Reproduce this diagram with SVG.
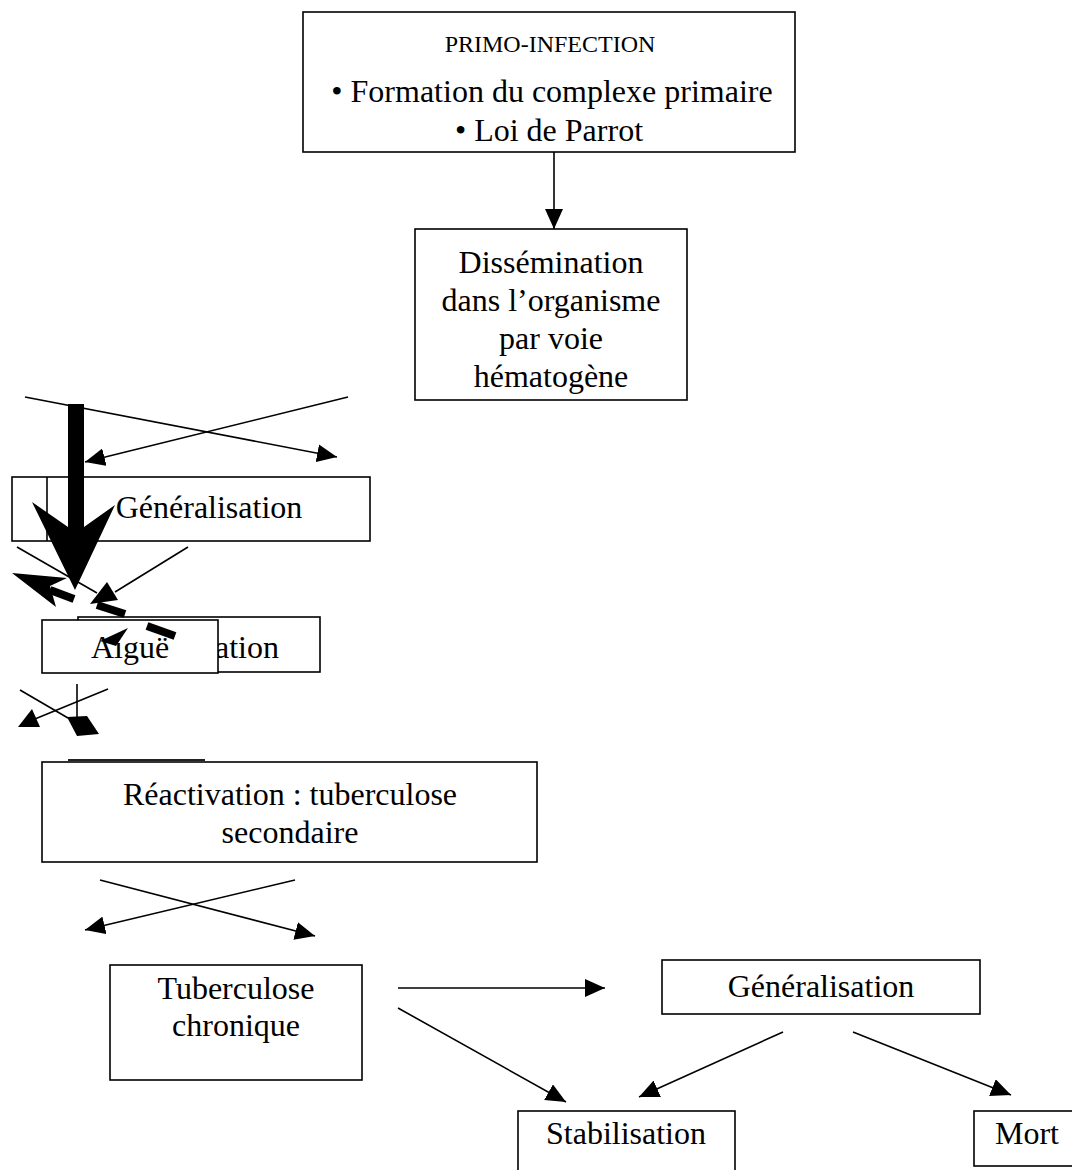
<svg xmlns="http://www.w3.org/2000/svg" width="1072" height="1170" viewBox="0 0 1072 1170">
<style>
.box{fill:#fff;stroke:#000;stroke-width:1.6}
.t{font-family:"Liberation Serif","Times New Roman",serif;font-size:32px;fill:#000;text-anchor:middle}
.ts{font-size:24px}
.ln{stroke:#000;stroke-width:1.6;fill:none}
.arr{marker-end:url(#ah)}
.thick{stroke:#000;stroke-width:8;fill:none}
.blk{fill:#000;stroke:none}
</style>
<defs>
<marker id="ah" viewBox="0 0 20 18" refX="20" refY="9" markerWidth="20" markerHeight="18" markerUnits="userSpaceOnUse" orient="auto">
<path d="M0,0 L20,9 L0,18 z" fill="#000"/>
</marker>
</defs>
<g id="primo">
<rect class="box" x="303" y="12" width="492" height="140"/>
<text class="t ts" x="550" y="52">PRIMO-INFECTION</text>
<text class="t" x="552" y="102">• Formation du complexe primaire</text>
<text class="t" x="549" y="141">• Loi de Parrot</text>
</g>
<g id="dissemination">
<rect class="box" x="415" y="229" width="272" height="171"/>
<text class="t" x="551" y="273">Dissémination</text>
<text class="t" x="551" y="311">dans l’organisme</text>
<text class="t" x="551" y="349">par voie</text>
<text class="t" x="551" y="387">hématogène</text>
</g>
<g id="generalisation-left">
<rect class="box" x="12" y="477" width="358" height="64"/>
<line class="ln" x1="47" y1="477" x2="47" y2="541"/>
<text class="t" x="209" y="518">Généralisation</text>
</g>
<g id="stabilisation-left">
<rect class="box" x="78" y="617" width="242" height="55"/>
<text class="t" x="199" y="658">Stabilisation</text>
</g>
<g id="aigue">
<rect class="box" x="42" y="620" width="176" height="53"/>
<text class="t" x="130" y="658">Aiguë</text>
</g>
<g id="reactivation">
<rect class="box" x="42" y="762" width="495" height="100"/>
<text class="t" x="290" y="805">Réactivation : tuberculose</text>
<text class="t" x="290" y="843">secondaire</text>
</g>
<g id="chronique">
<rect class="box" x="110" y="965" width="252" height="115"/>
<text class="t" x="236" y="999">Tuberculose</text>
<text class="t" x="236" y="1036">chronique</text>
</g>
<g id="generalisation-right">
<rect class="box" x="662" y="960" width="318" height="54"/>
<text class="t" x="821" y="997">Généralisation</text>
</g>
<g id="stabilisation">
<rect class="box" x="518" y="1111" width="217" height="70"/>
<text class="t" x="626" y="1144">Stabilisation</text>
</g>
<g id="mort">
<rect class="box" x="974" y="1111" width="110" height="55"/>
<text class="t" x="1027" y="1144">Mort</text>
</g>
<g id="connectors">
<line class="ln arr" x1="554" y1="152" x2="554" y2="229"/>
<line class="ln arr" x1="25" y1="397" x2="337" y2="457"/>
<line class="ln arr" x1="348" y1="397" x2="85" y2="462"/>
<polygon class="blk" points="68,404 84,404 84,527 115,505 75,590 32,502 68,527"/>
<line class="ln" x1="17" y1="547" x2="97" y2="593"/>
<line class="ln" x1="188" y1="547" x2="115" y2="592"/>
<polygon class="blk" points="107,582 90,604 118,600"/>
<polygon class="blk" points="12,573 67,578 50,586 56,607"/>
<line class="thick" x1="50" y1="590" x2="74" y2="599"/>
<line class="thick" x1="97" y1="605" x2="125" y2="614"/>
<line class="thick" x1="147" y1="626" x2="175" y2="636"/>
<polygon class="blk" points="100,641 128,628 116,646"/>
<line class="ln" x1="20" y1="690" x2="68" y2="718"/>
<line class="ln" x1="108" y1="689" x2="30" y2="721"/>
<polygon class="blk" points="18,727 32,709 40,727"/>
<line class="ln" x1="77" y1="684" x2="77" y2="718"/>
<polygon class="blk" points="67,717 87,716 99,734 77,736"/>
<line x1="68" y1="760" x2="205" y2="760" stroke="#222" stroke-width="2.2"/>
<line class="ln arr" x1="100" y1="880" x2="315" y2="936"/>
<line class="ln arr" x1="295" y1="880" x2="85" y2="930"/>
<line class="ln arr" x1="398" y1="988" x2="605" y2="988"/>
<line class="ln arr" x1="398" y1="1008" x2="566" y2="1102"/>
<line class="ln arr" x1="783" y1="1032" x2="639" y2="1097"/>
<line class="ln arr" x1="853" y1="1032" x2="1011" y2="1095"/>
</g>
</svg>
